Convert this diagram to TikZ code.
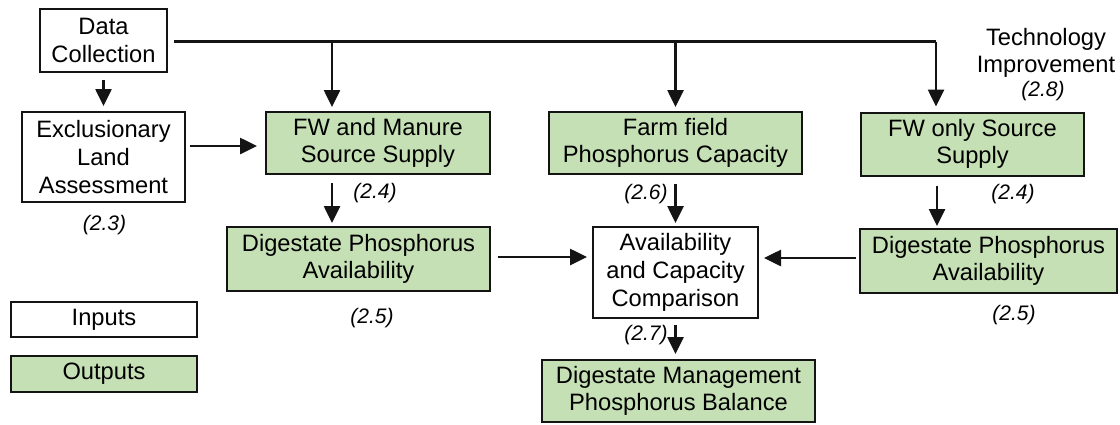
\documentclass[tikz,border=0pt]{standalone}
\usepackage{fontspec}
\setmainfont{Liberation Sans}
\usetikzlibrary{arrows.meta}
\definecolor{boxgreen}{RGB}{197,224,180}
\definecolor{ink}{RGB}{20,20,20}
\tikzset{
  box/.style={draw=ink, line width=2pt, inner sep=0pt, align=center,
    font=\fontsize{23.7}{27.7}\selectfont},
  inbox/.style={box, fill=white},
  outbox/.style={box, fill=boxgreen},
  lab/.style={inner sep=0pt, font=\fontsize{21}{24}\selectfont\itshape},
  txt/.style={inner sep=0pt, align=center, font=\fontsize{23.7}{27.7}\selectfont},
  conn/.style={draw=ink, line width=2.6pt},
  arr/.style={conn, -{Triangle[length=17pt,width=16pt]}},
}
\begin{document}
\begin{tikzpicture}[x=1pt, y=-1pt]
\useasboundingbox (0,0) rectangle (1120,424);
% boxes
\node[inbox, minimum width=127pt, minimum height=63pt] (dc) at (103.5,40.5) {Data\\Collection};
\node[inbox, minimum width=163pt, minimum height=90pt] (excl) at (103.5,157) {Exclusionary\\Land\\Assessment};
\node[outbox, minimum width=224pt, minimum height=62pt] (fwm) at (378,143) {FW and Manure\\Source Supply};
\node[outbox, minimum width=253pt, minimum height=62pt] (farm) at (675.5,143) {Farm field\\Phosphorus Capacity};
\node[outbox, minimum width=223pt, minimum height=63pt] (fwo) at (972.5,144) {FW only Source\\Supply};
\node[outbox, minimum width=263pt, minimum height=64pt] (digl) at (358.5,259) {Digestate Phosphorus\\Availability};
\node[inbox, minimum width=165pt, minimum height=91pt] (avail) at (675.5,272.5) {Availability\\and Capacity\\Comparison};
\node[outbox, minimum width=257pt, minimum height=64pt] (digr) at (988.5,261) {Digestate Phosphorus\\Availability};
\node[outbox, minimum width=273pt, minimum height=62pt] (dmpb) at (678.5,391) {Digestate Management\\Phosphorus Balance};
\node[inbox, minimum width=186pt, minimum height=35pt] (inputs) at (104,319.5) {Inputs};
\node[outbox, minimum width=186pt, minimum height=36pt] (outputs) at (104,374) {Outputs};
% free text
\node[txt] (tech) at (1046,53) {Technology\\Improvement};
\node[lab] (l28) at (1043,91) {(2.8)};
\node[lab] (l23) at (104.5,225) {(2.3)};
\node[lab] (l24a) at (375,193) {(2.4)};
\node[lab] (l26) at (646,194) {(2.6)};
\node[lab] (l24b) at (1013,194) {(2.4)};
\node[lab] (l25a) at (372,318) {(2.5)};
\node[lab] (l27) at (646,335) {(2.7)};
\node[lab] (l25b) at (1014,315) {(2.5)};
% junctions on the top line
\coordinate (j1) at (332,41.7);
\coordinate (j2) at (675.5,41.7);
\coordinate (j3) at (936,41.7);
\coordinate (s0) at (174,41.7);
\coordinate (x1) at (332,0);
\coordinate (x3) at (937,0);
% connectors
\draw[conn] (s0) -- (j3);
\draw[arr, shorten >=4pt] (j1) -- (j1 |- fwm.north);
\draw[arr, shorten >=4pt] (j2) -- (farm.north);
\draw[arr, shorten >=5pt] (j3) -- (j3 |- fwo.north);
\draw[arr, shorten <=7pt, shorten >=5pt] (dc.south) -- (excl.north);
\draw[arr, shorten <=4pt, shorten >=8pt] ([yshift=11pt]excl.east) -- ([yshift=11pt]excl.east -| fwm.west);
\draw[arr, shorten <=8pt, shorten >=3pt] (x1 |- fwm.south) -- (x1 |- digl.north);
\draw[arr, shorten <=9pt, shorten >=3pt] (farm.south) -- (avail.north);
\draw[arr, shorten <=9pt, shorten >=2pt] (x3 |- fwo.south) -- (x3 |- digr.north);
\draw[arr, shorten <=7pt, shorten >=5pt] ([yshift=2pt]digl.east) -- ([yshift=2pt]digl.east -| avail.west);
\draw[arr, shorten <=3pt, shorten >=5pt] ([yshift=3pt]digr.west) -- ([yshift=3pt]digr.west -| avail.east);
\draw[arr, shorten <=6pt, shorten >=5pt] (avail.south) -- (avail.south |- dmpb.north);
\end{tikzpicture}
\end{document}
